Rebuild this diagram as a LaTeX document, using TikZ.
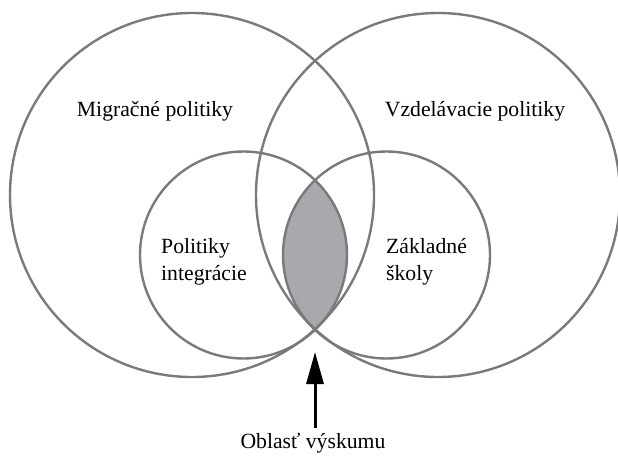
\documentclass[tikz,border=0pt]{standalone}
\usepackage{fontspec}
\setmainfont{Liberation Serif}
\usetikzlibrary{arrows.meta}
\definecolor{ringgray}{RGB}{122,122,124}
\definecolor{lensgray}{RGB}{167,169,172}
\tikzset{
  ring/.style={draw=ringgray, line width=2.4pt, circle, inner sep=0pt, minimum size=#1},
  lbl/.style={font=\fontsize{21.7}{27}\selectfont, inner sep=0pt, align=left, text=black},
}
\begin{document}
\begin{tikzpicture}[x=1pt,y=-1pt]
\useasboundingbox (0,0) rectangle (618,458);
% shaded lens
\begin{scope}
  \clip (243.5,255) circle[radius=103.5pt];
  \fill[lensgray] (386.5,255) circle[radius=103.5pt];
\end{scope}
\node[ring=364pt] (bigL) at (192,195) {};
\node[ring=364pt] (bigR) at (438,195) {};
\node[ring=207pt] (smL) at (243.5,255) {};
\node[ring=207pt] (smR) at (386.5,255) {};
\node[lbl, anchor=base] (mig) at (155,116.5) {Migračné politiky};
\node[lbl, anchor=base] (vzd) at (475,116.5) {Vzdelávacie politiky};
\node[lbl, anchor=base west] (pol) at (161,280.5) {Politiky\\integrácie};
\node[lbl, anchor=base west] (zak) at (386,280.5) {Základné\\školy};
\node[lbl, anchor=base] (obl) at (313,448) {Oblasť výskumu};
\coordinate (atail) at (315,428);
\coordinate (atip) at (315,352);
\draw[line width=3pt, -{Triangle[length=32pt,width=17pt]}] (atail) -- (atip);
\end{tikzpicture}
\end{document}
